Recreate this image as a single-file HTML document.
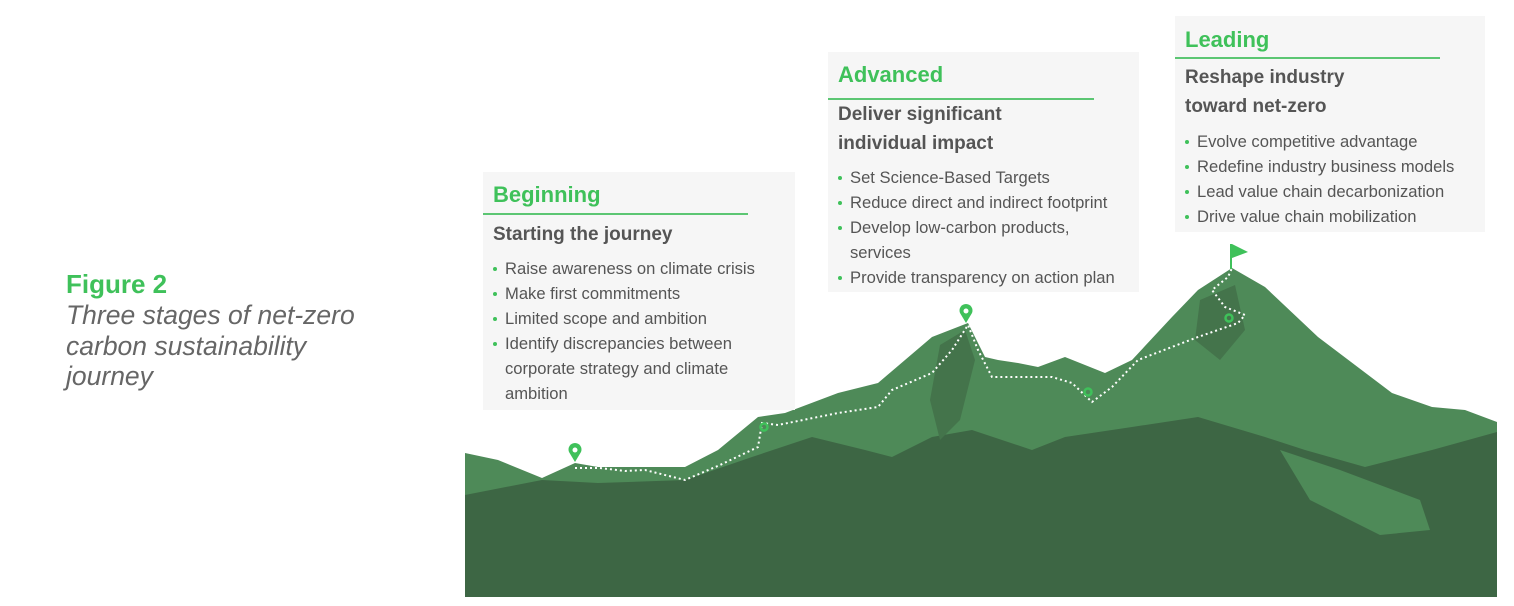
<!DOCTYPE html>
<html><head><meta charset="utf-8"><style>
body{margin:0;width:1514px;height:606px;background:#fff;position:relative;overflow:hidden;font-family:"Liberation Sans",sans-serif;}
.a{position:absolute;white-space:nowrap;}
.box{position:absolute;background:#f6f6f6;}
.t{position:absolute;color:#3fc15a;font-weight:bold;font-size:22px;line-height:26px;}
.ln{position:absolute;height:1.5px;background:#5cc673;}
.s{position:absolute;color:#555;font-weight:bold;font-size:19px;line-height:29px;}
.b{position:absolute;color:#555;font-size:16.6px;line-height:25px;}
.b div{position:relative;padding-left:12px;}
.b div.d::before{content:"";position:absolute;left:0;top:11px;width:4px;height:4px;border-radius:50%;background:#3fc15a;}
</style></head><body>
<div class="a" style="left:66px;top:269px;color:#3fc15a;font-weight:bold;font-size:26px;">Figure 2</div>
<div class="a" style="left:66px;top:300px;color:#666;font-style:italic;font-size:26.5px;line-height:30.5px;">Three stages of net-zero<br>carbon sustainability<br>journey</div>

<svg style="position:absolute;left:0;top:0" width="1514" height="606">
<polygon fill="#4e8a58" points="465,453 498,460 542,478 575,463 598,467 685,467 718,450 758,417 785,413 838,393 878,383 932,337 968,323 985,357 998,360 1018,363 1038,367 1065,357 1105,373 1132,360 1172,317 1198,290 1232,268 1265,287 1318,337 1392,393 1432,407 1465,410 1497,422 1497,597 465,597"/>
<polygon fill="#3d6644" points="465,495 542,480 598,483 685,480 752,457 812,437 865,450 892,457 932,437 972,430 1032,450 1065,437 1132,427 1198,417 1265,437 1305,450 1365,467 1432,450 1497,432 1497,597 465,597"/>
<polygon fill="#44744b" points="940,345 965,330 975,360 960,420 940,440 930,400"/>
<polygon fill="#44744b" points="1200,300 1235,285 1245,330 1220,360 1195,340"/>
<polygon fill="#4e8a58" points="1280,450 1340,470 1420,500 1430,530 1380,535 1310,500"/>
<polyline fill="none" stroke="#fff" stroke-width="2" stroke-dasharray="2,3" points="575,468 600,468 625,471 645,470 685,480 720,465 758,447 762,423 778,425 838,413 878,407 892,390 932,373 952,350 968,325 978,350 992,377 1052,377 1072,383 1092,402 1112,387 1138,360 1198,337 1238,323 1245,315 1225,307 1212,290 1228,277 1232,268"/>
<g fill="none" stroke="#3fc15a" stroke-width="2.5">
<circle cx="764" cy="427" r="3.5"/><circle cx="1088" cy="392" r="3.5"/><circle cx="1229" cy="318" r="3.5"/>
</g>
<g fill="#3fc15a">
<path d="M575,462 L569,452 A6.5,6.5 0 1 1 581,452 Z"/><circle cx="575" cy="450" r="2.5" fill="#fff"/>
<path d="M966,323 L960,313 A6.5,6.5 0 1 1 972,313 Z"/><circle cx="966" cy="311" r="2.5" fill="#fff"/>
<rect x="1230" y="244" width="2" height="25"/>
<path d="M1232,244 L1248,252 L1232,258 Z"/>
</g>
</svg>

<div class="box" style="left:483px;top:172px;width:312px;height:238px;"></div>
<div class="t" style="left:493px;top:182px;">Beginning</div>
<div class="ln" style="left:483px;top:213px;width:265px;"></div>
<div class="s" style="left:493px;top:220px;">Starting the journey</div>
<div class="b" style="left:493px;top:256px;">
<div class="d">Raise awareness on climate crisis</div><div class="d">Make first commitments</div><div class="d">Limited scope and ambition</div><div class="d">Identify discrepancies between</div><div>corporate strategy and climate</div><div>ambition</div></div>

<div class="box" style="left:828px;top:52px;width:311px;height:240px;"></div>
<div class="t" style="left:838px;top:62px;">Advanced</div>
<div class="ln" style="left:828px;top:98px;width:266px;"></div>
<div class="s" style="left:838px;top:100px;">Deliver significant<br>individual impact</div>
<div class="b" style="left:838px;top:165px;">
<div class="d">Set Science-Based Targets</div><div class="d">Reduce direct and indirect footprint</div><div class="d">Develop low-carbon products,</div><div>services</div><div class="d">Provide transparency on action plan</div></div>

<div class="box" style="left:1175px;top:16px;width:310px;height:216px;"></div>
<div class="t" style="left:1185px;top:27px;">Leading</div>
<div class="ln" style="left:1175px;top:57px;width:265px;"></div>
<div class="s" style="left:1185px;top:63px;">Reshape industry<br>toward net-zero</div>
<div class="b" style="left:1185px;top:129px;">
<div class="d">Evolve competitive advantage</div><div class="d">Redefine industry business models</div><div class="d">Lead value chain decarbonization</div><div class="d">Drive value chain mobilization</div></div>
</body></html>
